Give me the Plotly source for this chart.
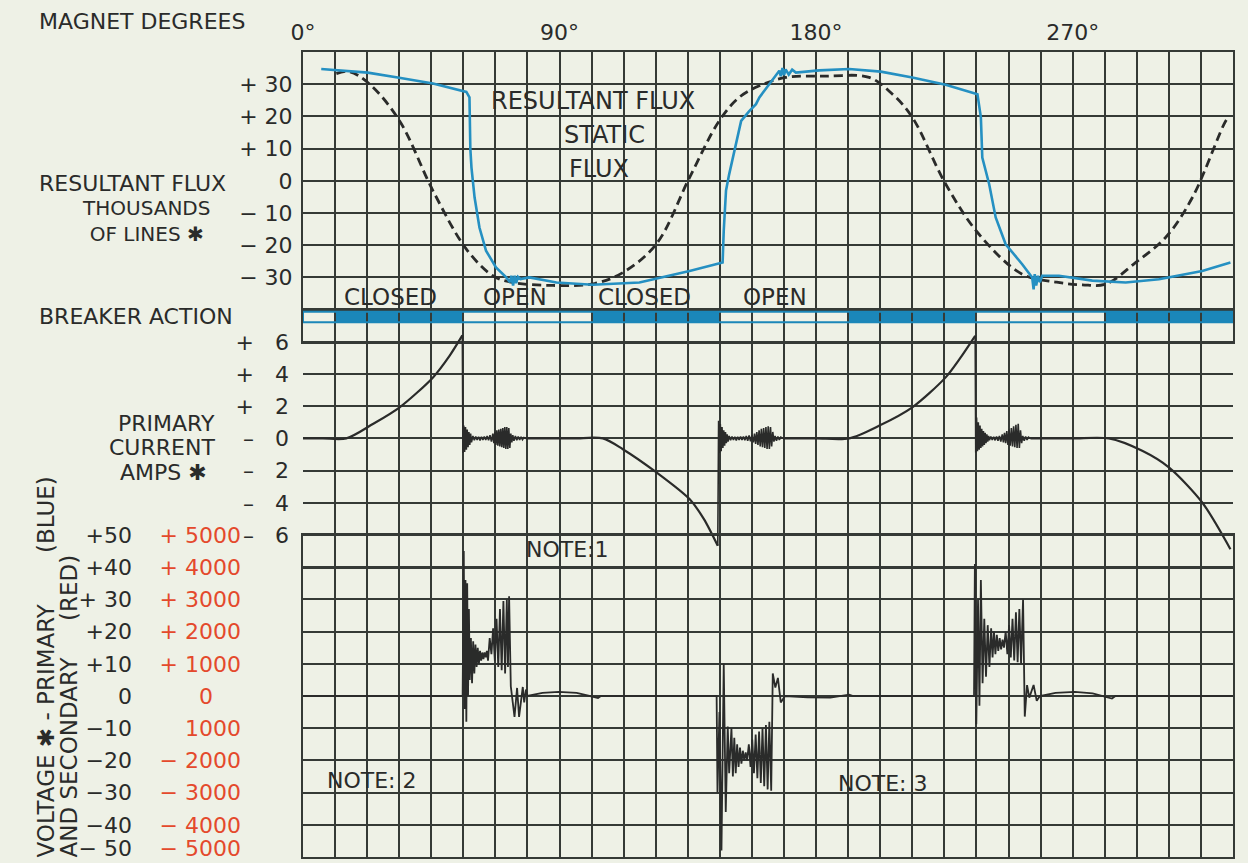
import plotly.graph_objects as go

FONT = "DejaVu Sans"
INK = "#2a2b2a"
GRID = "#353a36"
BLUE = "#2590c2"
BAND_BLUE = "#1b87b9"
RED = "#e4492c"
PAPER = "#eef1e6"
NB = "\u00a0"

# ---------------- axes / ticks ----------------
DEG_RANGE = [0, 326.25]
DEG_DIV = 11.25
DEG_TICKS = [0, 90, 180, 270]
DEG_LABELS = ["0°", "90°", "180°", "270°"]

FLUX_RANGE = [-40, 40]
FLUX_TICKS = [30, 20, 10, 0, -10, -20, -30]
FLUX_LABELS = ["+ 30", "+ 20", "+ 10", "0", "− 10", "− 20", "− 30"]

CURR_RANGE = [-8, 8]
CURR_TICKS = [6, 4, 2, 0, -2, -4, -6]
CURR_LABELS = ["+" + NB * 3 + "6", "+" + NB * 3 + "4", "+" + NB * 3 + "2", "–" + NB * 3 + "0",
               "–" + NB * 3 + "2", "–" + NB * 3 + "4", "–" + NB * 3 + "6"]

VOLT_RANGE = [-50, 50]
VOLT_TICKS = [50, 40, 30, 20, 10, 0, -10, -20, -30, -40, -50]
# the bottom label sits a little above its line, as on the original sheet
VOLT_LABEL_POS = [50, 40, 30, 20, 10, 0, -10, -20, -30, -40, -47.3]
VOLT_LABELS_PRIMARY = ["+50", "+40", "+ 30", "+20", "+10", "0", "−10", "−20", "−30", "−40", "− 50"]
VOLT_LABELS_SECONDARY = ["+ 5000", "+ 4000", "+ 3000", "+ 2000", "+ 1000", "0" + NB * 4, "1000",
                         "− 2000", "− 3000", "− 4000", "− 5000"]

# ---------------- breaker action ----------------
BRK_START = [0, 11.25, 56.25, 101.25, 146.25, 191.25, 236.25, 281.25]
BRK_END = [11.25, 56.25, 101.25, 146.25, 191.25, 236.25, 281.25, 326.25]
BRK_CLOSED = [False, True, False, True, False, True, False, True]
BRK_LABEL_DEG = [30.8, 74.2, 119.8, 165.6]
BRK_LABEL_TEXT = ["CLOSED", "OPEN", "CLOSED", "OPEN"]

# ---------------- resultant flux (blue), thousands of lines ----------------
RESULTANT_FLUX = [
    (6.4, 34.7), (11.25, 34.4), (22.7, 33.6), (33.75, 32.0), (45.6, 30.2), (57.3, 27.6),
    (58.4, 25.9), (58.7, 10.0), (59.1, 4.1), (60.2, -5.2), (61.9, -14.5), (64.2, -21.7),
    (67.7, -26.9), (71.3, -30.0), (72.6, -31.5), (73.1, -29.5), (73.7, -32.5), (74.25, -29.5),
    (74.8, -31.8), (75.4, -29.8), (76.3, -30.5), (79.4, -30.0), (88.9, -31.6), (101.6, -32.3),
    (118.0, -31.6), (135.6, -28.0), (147.2, -25.4), (147.6, -15.5), (148.4, -3.0), (149.5, 2.0),
    (151.9, 11.4), (153.7, 18.6), (156.4, 21.5), (158.9, 23.8), (160.1, 25.9), (163.6, 30.0),
    (167.1, 34.2), (167.6, 32.5), (168.2, 35.0), (168.75, 32.8), (169.3, 34.6), (170.4, 33.0),
    (171.6, 34.5), (172.9, 33.6), (181.1, 34.3), (191.6, 34.7), (202.7, 33.9), (213.75, 32.1),
    (225.45, 29.8), (236.6, 26.9), (237.8, 19.7), (238.3, 7.2), (240.7, -1.0), (243.0, -11.4),
    (246.5, -19.7), (252.3, -25.9), (255.8, -30.0), (256.3, -33.7), (256.7, -29.0), (257.2, -32.5),
    (257.85, -29.5), (258.5, -31.5), (259.3, -29.5), (265.2, -29.5), (276.9, -31.0), (288.6, -31.6),
    (300.3, -30.6), (315.45, -28.0), (325.35, -25.4),
]

# ---------------- static flux (dashed) ----------------
STATIC_FLUX = [
    (11.7, 33.3), (16.3, 33.9), (23.4, 30.0), (33.9, 18.6), (45.6, -3.1), (57.3, -21.2),
    (66.6, -29.5), (73.1, -31.5), (87.75, -32.5), (102.3, -31.9), (112.2, -28.5), (123.9, -19.7),
    (135.6, 1.0), (146.0, 18.6), (153.0, 25.9), (160.1, 29.5), (169.4, 32.1), (183.4, 32.5),
    (198.6, 32.1), (206.8, 26.9), (213.75, 19.7), (225.45, -1.0), (237.15, -16.6), (252.3, -29.0),
    (264.4, -31.5), (273.4, -32.3), (281.6, -32.1), (292.05, -25.4), (302.6, -17.6), (312.0, -5.2),
    (323.7, 18.6), (324.8, 19.7),
]

# ---------------- primary current, smooth parts ----------------
CURRENT_SMOOTH = [
    [(0, 0), (7.0, 0), (15.2, 0), (24.5, 0.89), (33.9, 1.93), (45.6, 3.79), (51.4, 5.13), (55.9, 6.4)],
    [(78.2, 0), (95.0, 0), (105.2, 0), (112.2, -0.67), (123.9, -2.1), (135.6, -3.77), (140.6, -5.0), (145.5, -6.67)],
    [(168.4, 0), (180.0, 0), (191.6, 0), (202.05, 0.78), (213.75, 1.93), (225.45, 3.79), (230.6, 5.0), (235.8, 6.37)],
    [(255.2, 0), (270.0, 0), (282.7, 0), (294.4, -0.77), (303.75, -1.8), (315.45, -3.98), (325.35, -6.88)],
]

# ---------------- primary current, transient bursts after each switching ----------------
BURST1_DEG = [55.9, 56.1, 56.4, 56.7, 57.0, 57.3, 57.6, 57.9, 58.2, 58.5,
              58.8, 59.1, 59.6, 60.1, 60.6, 61.1, 61.6, 62.1, 62.6, 63.1,
              63.6, 64.1, 64.6, 65.1, 65.6, 66.1, 66.6, 66.95, 67.3, 67.65,
              68.0, 68.35, 68.7, 69.05, 69.4, 69.75, 70.1, 70.45, 70.8, 71.15,
              71.5, 71.85, 72.2, 72.55, 72.9, 73.25, 73.6, 74.0, 74.5, 75.0,
              75.5, 76.0, 76.5, 77.0, 77.5, 78.2]
BURST1_AMPS = [6.4, -0.9, 0.8, -0.85, 0.7, -0.7, 0.55, -0.55, 0.4, -0.4,
               0.3, -0.25, 0.15, -0.12, 0.12, -0.1, 0.1, -0.12, 0.1, -0.1,
               0.12, -0.1, 0.15, -0.12, 0.2, -0.2, 0.3, -0.3, 0.4, -0.4,
               0.5, -0.45, 0.55, -0.5, 0.6, -0.55, 0.65, -0.6, 0.7, -0.65,
               0.7, -0.65, 0.65, -0.6, 0.3, -0.25, 0.2, -0.15, 0.15, -0.12,
               0.12, -0.1, 0.1, -0.08, 0.05, 0]
BURST2_DEG = [145.5, 145.8, 146.1, 146.4, 146.7, 147.0, 147.3, 147.6, 147.9, 148.2,
              148.5, 148.8, 149.1, 149.5, 150.0, 150.5, 151.0, 151.5, 152.0, 152.5,
              153.0, 153.5, 154.0, 154.5, 155.0, 155.5, 156.0, 156.5, 157.0, 157.5,
              158.0, 158.4, 158.8, 159.2, 159.6, 160.0, 160.4, 160.8, 161.2, 161.6,
              162.0, 162.4, 162.8, 163.2, 163.6, 164.0, 164.4, 164.8, 165.2, 165.6,
              166.1, 166.6, 167.1, 167.6, 168.4]
BURST2_AMPS = [-6.67, 1.1, -0.9, 0.9, -0.8, 0.7, -0.6, 0.5, -0.45, 0.4,
               -0.3, 0.25, -0.2, 0.15, -0.12, 0.12, -0.1, 0.1, -0.12, 0.1,
               -0.1, 0.12, -0.1, 0.12, -0.12, 0.15, -0.15, 0.18, -0.18, 0.2,
               -0.25, 0.3, -0.35, 0.4, -0.4, 0.5, -0.5, 0.6, -0.55, 0.65,
               -0.6, 0.7, -0.65, 0.75, -0.65, 0.7, -0.5, 0.4, -0.2, 0.15,
               -0.15, 0.12, -0.1, 0.08, 0]
BURST3_DEG = [235.8, 236.0, 236.3, 236.6, 236.9, 237.2, 237.5, 237.8, 238.1, 238.4,
              238.7, 239.0, 239.3, 239.6, 239.9, 240.2, 240.5, 240.8, 241.3, 241.8,
              242.3, 242.8, 243.3, 243.8, 244.3, 244.8, 245.3, 245.7, 246.1, 246.5,
              246.9, 247.3, 247.7, 248.1, 248.5, 248.9, 249.3, 249.7, 250.1, 250.5,
              250.9, 251.3, 251.7, 252.1, 252.5, 253.0, 253.5, 254.0, 254.5, 255.2]
BURST3_AMPS = [6.37, -0.87, 1.3, -0.8, 1.0, -0.7, 0.8, -0.6, 0.6, -0.5,
               0.45, -0.4, 0.35, -0.3, 0.25, -0.2, 0.15, -0.12, 0.12, -0.1,
               0.1, -0.12, 0.12, -0.15, 0.15, -0.2, 0.25, -0.25, 0.35, -0.3,
               0.45, -0.4, 0.55, -0.45, 0.65, -0.5, 0.75, -0.55, 0.85, -0.6,
               0.9, -0.6, 0.5, -0.3, 0.15, -0.15, 0.12, -0.1, 0.08, 0]

# ---------------- primary voltage ----------------
VOLTAGE = [
    (0, 0), (56.0, 0), (56.4, 45), (56.7, -4), (57.0, 36), (57.3, -8), (57.6, 35), (57.9, 0),
    (58.2, 27), (58.5, 5), (58.9, 18), (59.3, 4), (59.7, 17), (60.1, 7), (60.5, 16), (60.9, 9),
    (61.3, 15), (61.7, 10), (62.1, 14), (62.5, 11), (62.9, 13.5), (63.3, 11.5), (63.7, 13.5),
    (64.1, 12), (64.5, 14), (64.9, 11), (65.5, 18), (66.1, 13), (66.7, 21), (67.3, 11), (67.9, 24),
    (68.5, 9), (69.1, 27), (69.7, 8), (70.3, 29.5), (70.9, 7), (71.5, 30), (71.9, 9), (72.3, 31),
    (72.9, 3), (74.2, -6.5), (75.1, 2.5), (75.8, -6.5), (77.1, 2.8), (77.6, -2), (78.2, 2),
    (78.75, 0), (84.0, 1.0), (89.7, 1.3), (96.0, 1.0), (103.5, -0.6), (104.5, 0), (145.1, 0),
    (145.4, -30), (146.1, -5), (146.8, -48), (147.6, 10), (148.3, -36), (149.0, -9.5), (149.5, -24),
    (150.3, -10), (150.8, -25), (151.3, -13), (151.8, -24), (152.3, -15), (152.8, -22), (153.3, -16),
    (153.8, -21), (154.3, -17), (154.8, -20), (155.3, -17.5), (155.8, -20),
    (156.4, -15), (157.0, -22), (157.6, -13.5), (158.2, -24), (158.8, -12), (159.4, -25.5),
    (160.0, -11), (160.6, -27), (161.2, -10), (161.8, -28), (162.4, -9), (163.0, -29), (163.6, -8),
    (164.25, -29.4), (164.8, 7), (165.7, 2.6), (166.6, 5.6), (167.6, -2), (169.1, 0), (177.0, -0.4),
    (185.0, -0.5), (191.6, 0.4), (193.0, 0), (235.4, 0),
    (235.7, 41), (236.2, -8.8), (236.8, 30), (237.3, -3), (237.8, 36), (238.4, 4), (239.0, 24),
    (239.6, 6), (240.2, 22), (240.8, 9), (241.4, 21), (241.9, 12), (242.4, 20), (242.9, 13),
    (243.4, 19), (243.9, 14), (244.4, 18), (244.9, 14.5), (245.4, 17.5), (245.9, 15),
    (246.5, 20), (247.1, 13), (247.7, 22), (248.3, 12), (248.9, 24), (249.5, 11), (250.1, 26),
    (250.7, 10.5), (251.3, 27), (251.9, 10), (252.6, 30), (253.2, -6.4), (254.0, 3.4), (254.8, -0.5),
    (256.3, 3.4), (257.4, -1.5), (258.5, 0), (264.0, 1.0), (270.8, 1.3), (277.0, 0.8), (283.8, -0.8),
    (285.0, 0), (326.25, 0),
]

# ---------------- text notes placed on the chart ----------------
NOTES = [("NOTE:1", 92.7, 45.6), ("NOTE: 2", 24.1, -26.2), ("NOTE: 3", 203.5, -27.1)]
FLUX_NOTES = [("RESULTANT FLUX", 101.7, 24.8), ("STATIC", 105.7, 14.2), ("FLUX", 104.0, 3.8)]


def unzip(pts):
    return [p[0] for p in pts], [p[1] for p in pts]


# grid rows (25 equal rows): flux 8, breaker 1, current 6 (+1 overflow row), voltage 10
NROWS = 25
DOM_FLUX = [1 - 8 / NROWS, 1]
DOM_BRK = [1 - 9 / NROWS, 1 - 8 / NROWS]
DOM_CURR = [1 - 16 / NROWS, 1 - 8 / NROWS]
DOM_VOLT = [0, 1 - 15 / NROWS]

fig = go.Figure()

sx, sy = unzip(STATIC_FLUX)
fig.add_trace(go.Scatter(x=sx, y=sy, mode="lines", line=dict(color=INK, width=2.8, dash="9px,5px", shape="spline"),
                         hoverinfo="skip", xaxis="x", yaxis="y"))
rx, ry = unzip(RESULTANT_FLUX)
fig.add_trace(go.Scatter(x=rx, y=ry, mode="lines", line=dict(color=BLUE, width=2.6), hoverinfo="skip",
                         xaxis="x", yaxis="y"))

# breaker band
cx = [(s + e) / 2 for s, e, c in zip(BRK_START, BRK_END, BRK_CLOSED) if c]
cw = [(e - s) for s, e, c in zip(BRK_START, BRK_END, BRK_CLOSED) if c]
fig.add_trace(go.Bar(x=cx, y=[0.32] * len(cx), base=[0.61] * len(cx), width=cw,
                     marker=dict(color=BAND_BLUE, line=dict(width=0)), hoverinfo="skip",
                     xaxis="x2", yaxis="y2"))

# current
for seg in CURRENT_SMOOTH:
    x, y = unzip(seg)
    fig.add_trace(go.Scatter(x=x, y=y, mode="lines", line=dict(color=INK, width=2.2, shape="spline", smoothing=0.8),
                             hoverinfo="skip", xaxis="x3", yaxis="y3"))
for bx, by in [(BURST1_DEG, BURST1_AMPS), (BURST2_DEG, BURST2_AMPS), (BURST3_DEG, BURST3_AMPS)]:
    fig.add_trace(go.Scatter(x=bx, y=by, mode="lines", line=dict(color=INK, width=1.6), hoverinfo="skip",
                             xaxis="x3", yaxis="y3"))

vx, vy = unzip(VOLTAGE)
fig.add_trace(go.Scatter(x=vx, y=vy, mode="lines", line=dict(color=INK, width=1.8), hoverinfo="skip",
                         xaxis="x4", yaxis="y4"))
# label-scale carriers (invisible) for the two voltage scales
for yname in ["y5", "y6"]:
    fig.add_trace(go.Scatter(x=vx, y=vy, mode="lines", line=dict(width=0), opacity=0, hoverinfo="skip",
                             xaxis="x4", yaxis=yname))

tick_font = dict(family=FONT, size=22, color=INK)
xcommon = dict(range=DEG_RANGE, domain=[0, 1], tickvals=DEG_TICKS, showgrid=True, gridcolor=GRID, gridwidth=2,
               minor=dict(tickmode="linear", tick0=0, dtick=DEG_DIV, showgrid=True, gridcolor=GRID, gridwidth=2),
               zeroline=False, showline=True, mirror=True, linecolor=GRID, linewidth=2, ticks="",
               showticklabels=False, fixedrange=True, automargin=False)
ycommon = dict(showgrid=True, gridcolor=GRID, gridwidth=2, zeroline=False, showline=True, mirror=True,
               linecolor=GRID, linewidth=2, ticks="", tickfont=tick_font, fixedrange=True, automargin=False,
               ticklabeloverflow="allow")
ylabels = dict(range=VOLT_RANGE, overlaying="y4", anchor="x4", side="left", showgrid=False, zeroline=False,
               showline=False, ticks="", fixedrange=True, automargin=False, ticklabeloverflow="allow",
               tickvals=VOLT_LABEL_POS)

fig.update_layout(
    xaxis=dict(xcommon, anchor="y", side="top", showticklabels=True, ticktext=DEG_LABELS, tickfont=tick_font,
               ticklabelstandoff=1),
    xaxis2=dict(xcommon, anchor="y2"),
    xaxis3=dict(xcommon, anchor="y3"),
    xaxis4=dict(xcommon, anchor="y4"),
    yaxis=dict(ycommon, domain=DOM_FLUX, anchor="x", range=FLUX_RANGE, tickvals=FLUX_TICKS, ticktext=FLUX_LABELS,
               ticklabelstandoff=4),
    yaxis2=dict(ycommon, domain=DOM_BRK, anchor="x2", range=[0, 1], showgrid=False, showticklabels=False),
    yaxis3=dict(ycommon, domain=DOM_CURR, anchor="x3", range=CURR_RANGE, tickvals=CURR_TICKS,
                ticktext=CURR_LABELS, ticklabelstandoff=13, showline=False),
    yaxis4=dict(ycommon, domain=DOM_VOLT, anchor="x4", range=VOLT_RANGE, tickvals=VOLT_TICKS,
                showticklabels=False),
    yaxis5=dict(ylabels, ticktext=VOLT_LABELS_SECONDARY, tickfont=dict(family=FONT, size=22, color=RED),
                ticklabelstandoff=61),
    yaxis6=dict(ylabels, ticktext=VOLT_LABELS_PRIMARY, tickfont=tick_font, ticklabelstandoff=170),
)

W, H = 1248, 863
L, R, T, B = 303, 15, 52, 6
PW, PH = W - L - R, H - T - B


def px(x):
    return (x - L) / PW


def py(y):
    return (H - B - y) / PH


ann = []
lab_font = dict(family=FONT, size=22, color=INK)
for text, x, y, anchor in [
    ("MAGNET DEGREES", 37, 22, "left"),
    ("RESULTANT FLUX", 37, 183, "left"),
    ("BREAKER ACTION", 37, 316, "left"),
    ("PRIMARY", 217, 423, "right"),
    ("CURRENT", 217, 448, "right"),
    ("AMPS ✱", 209, 472, "right"),
]:
    ann.append(dict(text=text, x=px(x), y=py(y), xref="paper", yref="paper", xanchor=anchor, yanchor="middle",
                    showarrow=False, font=lab_font))
ann.append(dict(text="THOUSANDS<br>OF LINES ✱", x=px(146), y=py(221), xref="paper", yref="paper",
                xanchor="center", yanchor="middle", align="center", showarrow=False,
                font=dict(family=FONT, size=20, color=INK)))
for text, x in [("VOLTAGE ✱ - PRIMARY" + NB * 7 + "(BLUE)", 45), ("AND SECONDARY" + NB * 5 + "(RED)", 68)]:
    ann.append(dict(text=text, x=px(x), y=py(860), xref="paper", yref="paper", xanchor="center",
                    yanchor="bottom", textangle=-90, showarrow=False, font=dict(family=FONT, size=23, color=INK)))
for text, x in zip(BRK_LABEL_TEXT, BRK_LABEL_DEG):
    ann.append(dict(text=text, x=x, y=-36, xref="x", yref="y", showarrow=False,
                    font=dict(family=FONT, size=23, color=INK)))
for text, x, y in FLUX_NOTES:
    ann.append(dict(text=text, x=x, y=y, xref="x", yref="y", showarrow=False,
                    font=dict(family=FONT, size=24, color=INK)))
for text, x, y in NOTES:
    ann.append(dict(text=text, x=x, y=y, xref="x4", yref="y4", showarrow=False,
                    font=dict(family=FONT, size=22, color=INK)))

fig.update_layout(
    width=W, height=H, margin=dict(l=L, r=R, t=T, b=B, pad=0, autoexpand=False),
    paper_bgcolor=PAPER, plot_bgcolor="rgba(0,0,0,0)", showlegend=False, annotations=ann,
    shapes=[dict(type="rect", xref="x2", yref="y2", x0=BRK_START[0], x1=BRK_END[-1], y0=0.61, y1=0.93,
                 line=dict(color=BAND_BLUE, width=2))],
)

fig.write_html("out.html", config={"displayModeBar": False, "staticPlot": True},
               post_script="document.body.style.margin='0';document.body.style.overflow='hidden';")
